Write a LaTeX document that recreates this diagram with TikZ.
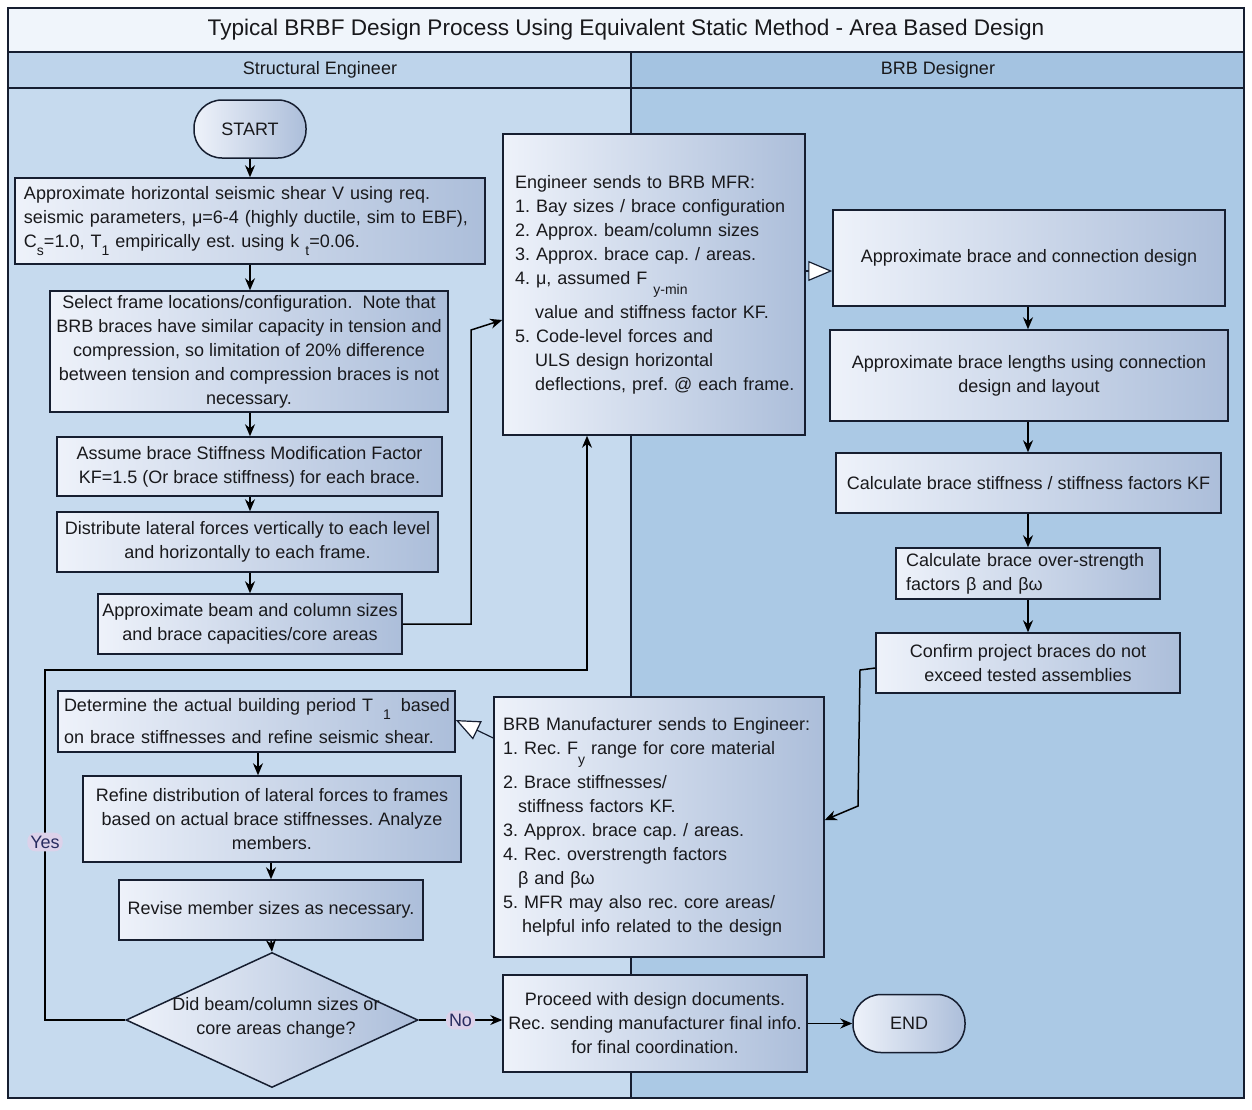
\documentclass[tikz,border=0pt]{standalone}
\usepackage{fontspec}
\setmainfont{Liberation Sans}
\usetikzlibrary{arrows.meta,shapes.geometric,calc}
\definecolor{lanel}{RGB}{198,218,238}
\definecolor{laner}{RGB}{171,201,229}
\definecolor{headl}{RGB}{190,212,235}
\definecolor{headr}{RGB}{164,195,225}
\definecolor{titlebg}{RGB}{240,245,251}
\definecolor{edge}{RGB}{22,30,48}
\definecolor{gradl}{RGB}{238,242,250}
\definecolor{gradr}{RGB}{172,190,218}
\definecolor{txt}{RGB}{25,25,28}
\definecolor{lblbg}{RGB}{220,210,234}
\definecolor{lbltxt}{RGB}{40,44,96}
\frenchspacing
\newcommand\bodyfont{\fontsize{9}{12}\selectfont\frenchspacing\hyphenpenalty=10000}
\newcommand\lo[2][4pt]{\raisebox{-#1}{\fontsize{7}{8}\selectfont #2}}
\begin{document}
\begin{tikzpicture}[x=0.5pt,y=-0.5pt,
  box/.style={draw=edge, line width=0.75pt, left color=gradl, right color=gradr, text=txt, font=\bodyfont, inner sep=0pt},
  term/.style={box, rounded corners=14pt, minimum width=56pt, minimum height=29pt},
  arr/.style={draw=black, line width=0.75pt, -{Stealth[length=6pt,width=5pt]}},
  oarr/.style={draw=edge, line width=0.6pt, -{Triangle[open,fill=white,length=12pt,width=10pt]}},
  lbl/.style={fill=lblbg, text=lbltxt, font=\bodyfont, inner sep=1.5pt, rounded corners=4pt},
]
\useasboundingbox (0,0) rectangle (1252,1109);
% lanes
\fill[titlebg] (8,8) rectangle (1244,52);
\fill[headl] (8,52) rectangle (631,88);
\fill[headr] (631,52) rectangle (1244,88);
\fill[lanel] (8,88) rectangle (631,1098);
\fill[laner] (631,88) rectangle (1244,1098);
\draw[edge, line width=0.6pt] (8,8) rectangle (1244,1098);
\draw[edge, line width=0.6pt] (8,52) -- (1244,52) (8,88) -- (1244,88) (631,52) -- (631,1098);
\node[font=\fontsize{11.3}{13}\selectfont, text=txt] (title) at (626,30) {Typical BRBF Design Process Using Equivalent Static Method - Area Based Design};
\node[font=\bodyfont, text=txt] (hl) at (320,70) {Structural Engineer};
\node[font=\bodyfont, text=txt] (hr) at (938,70) {BRB Designer};

% left lane
\node[term] (st) at (250,129) {START};
\node[box, minimum width=235pt, minimum height=43pt, text width=226pt, inner xsep=4.5pt, align=left] (a1) at (250,221)
  {\mbox{Approximate horizontal seismic shear V using req.}\\
   \mbox{seismic parameters, μ=6-4 (highly ductile, sim to EBF),}\\
   \mbox{C\lo{s}=1.0, T\lo{1} empirically est. using k \lo{t}=0.06.}};
\node[box, minimum width=199pt, minimum height=60.5pt, align=center] (a2) at (249,351.5)
  {Select frame locations/configuration.\ \ Note that\\
   BRB braces have similar capacity in tension and\\
   compression, so limitation of 20\% difference\\
   between tension and compression braces is not\\
   necessary.};
\node[box, minimum width=192.5pt, minimum height=29.5pt, align=center] (a3) at (249.5,466.5)
  {Assume brace Stiffness Modification Factor\\KF=1.5 (Or brace stiffness) for each brace.};
\node[box, minimum width=190.5pt, minimum height=30pt, align=center] (a4) at (247.5,542)
  {Distribute lateral forces vertically to each level\\and horizontally to each frame.};
\node[box, minimum width=152pt, minimum height=30pt, align=center] (a5) at (250,624)
  {Approximate beam and column sizes\\and brace capacities/core areas};

\node[box, minimum width=198.5pt, minimum height=30.5pt, text width=192.5pt, inner xsep=3pt, align=left] (b1) at (256.5,721.5)
  {\mbox{Determine the actual building period T\hspace{5pt}\lo{1}\hspace{5pt}based}\\[4pt]
   \mbox{on brace stiffnesses and refine seismic shear.}};
\node[box, minimum width=189pt, minimum height=43pt, align=center] (b2) at (272,819)
  {Refine distribution of lateral forces to frames\\based on actual brace stiffnesses. Analyze\\members.};
\node[box, minimum width=152pt, minimum height=30pt, align=center] (b3) at (271,910)
  {Revise member sizes as necessary.};
\node[draw=edge, line width=0.75pt, left color=gradl, right color=gradr, diamond, minimum width=146pt, minimum height=67.5pt, inner sep=0pt] (d) at (272,1020) {};
\node[font=\bodyfont, text=txt, align=center] (dtxt) at (276,1018) {Did beam/column sizes or\\core areas change?};

% middle boxes
\node[box, minimum width=151pt, minimum height=150.5pt, text width=139pt, inner xsep=6pt, align=left] (e) at (654,284.5)
  {\mbox{Engineer sends to BRB MFR:}\\
   \mbox{1. Bay sizes / brace configuration}\\
   \mbox{2. Approx. beam/column sizes}\\
   \mbox{3. Approx. brace cap. / areas.}\\
   \mbox{4. μ, assumed F\hspace{3pt}\lo[5pt]{y-min}}\\[3pt]
   \mbox{\hspace*{10pt}value and stiffness factor KF.}\\
   \mbox{5. Code-level forces and}\\
   \mbox{\hspace*{10pt}ULS design horizontal}\\
   \mbox{\hspace*{10pt}deflections, pref. @ each frame.}};
\node[box, minimum width=165pt, minimum height=130pt, text width=156pt, inner xsep=4.5pt, align=left] (m) at (659,827)
  {\mbox{BRB Manufacturer sends to Engineer:}\\
   \mbox{1. Rec. F\lo[5pt]{y} range for core material}\\[3pt]
   \mbox{2. Brace stiffnesses/}\\
   \mbox{\hspace*{7.5pt}stiffness factors KF.}\\
   \mbox{3. Approx. brace cap. / areas.}\\
   \mbox{4. Rec. overstrength factors}\\
   \mbox{\hspace*{7.5pt}β and βω}\\
   \mbox{5. MFR may also rec. core areas/}\\
   \mbox{\hspace*{9.5pt}helpful info related to the design}};
\node[box, minimum width=152pt, minimum height=48.5pt, align=center] (p) at (655,1023.5)
  {Proceed with design documents.\\Rec. sending manufacturer final info.\\for final coordination.};
\node[term] (fin) at (909,1023.5) {END};

% right lane
\node[box, minimum width=196pt, minimum height=48pt, align=center] (r1) at (1029,258)
  {Approximate brace and connection design};
\node[box, minimum width=199pt, minimum height=45.5pt, align=center] (r2) at (1029,375.5)
  {Approximate brace lengths using connection\\design and layout};
\node[box, minimum width=192.5pt, minimum height=30pt, align=center] (r3) at (1028.5,483)
  {Calculate brace stiffness / stiffness factors KF};
\node[box, minimum width=132pt, minimum height=25.5pt, text width=122pt, inner xsep=5pt, align=left] (r4) at (1028,573.5)
  {\mbox{Calculate brace over-strength}\\\mbox{factors β and βω}};
\node[box, minimum width=152pt, minimum height=30pt, align=center] (r5) at (1028,663)
  {Confirm project braces do not\\exceed tested assemblies};

% connectors
\draw[arr] (st.south) -- (st.south |- a1.north);
\draw[arr] (250,0 |- a1.south) -- (250,0 |- a2.north);
\draw[arr] (250,0 |- a2.south) -- (250,0 |- a3.north);
\draw[arr] (250,0 |- a3.south) -- (250,0 |- a4.north);
\draw[arr] (250,0 |- a4.south) -- (250,0 |- a5.north);
\draw[arr] (a5.east) -| (471,330) -- (e.west |- 0,320);
\draw[arr] (d.west) -| (45,670) -- (587,670) -- (587,0 |- e.south);
\node[lbl] (yes) at (45,842) {Yes};
\draw[oarr] (e.east |- 0,271) -- (r1.west |- 0,271);
\draw[arr] (1028,0 |- r1.south) -- (1028,0 |- r2.north);
\draw[arr] (1028,0 |- r2.south) -- (1028,0 |- r3.north);
\draw[arr] (1028,0 |- r3.south) -- (1028,0 |- r4.north);
\draw[arr] (1028,0 |- r4.south) -- (1028,0 |- r5.north);
\draw[arr] (r5.west |- 0,668) -- (860,670) -- (858,806) -- (m.east |- 0,820);
\draw[oarr] (m.west |- 0,738) -- (b1.east |- 0,720);
\draw[arr] (258,0 |- b1.south) -- (258,0 |- b2.north);
\draw[arr] (271,0 |- b2.south) -- (271,0 |- b3.north);
\draw[arr] (271,0 |- b3.south) -- (d.north);
\draw[arr] (d.east) -- node[lbl] (no) {No} (p.west |- d.east);
\draw[arr] (p.east) -- (fin.west);
\end{tikzpicture}
\end{document}
